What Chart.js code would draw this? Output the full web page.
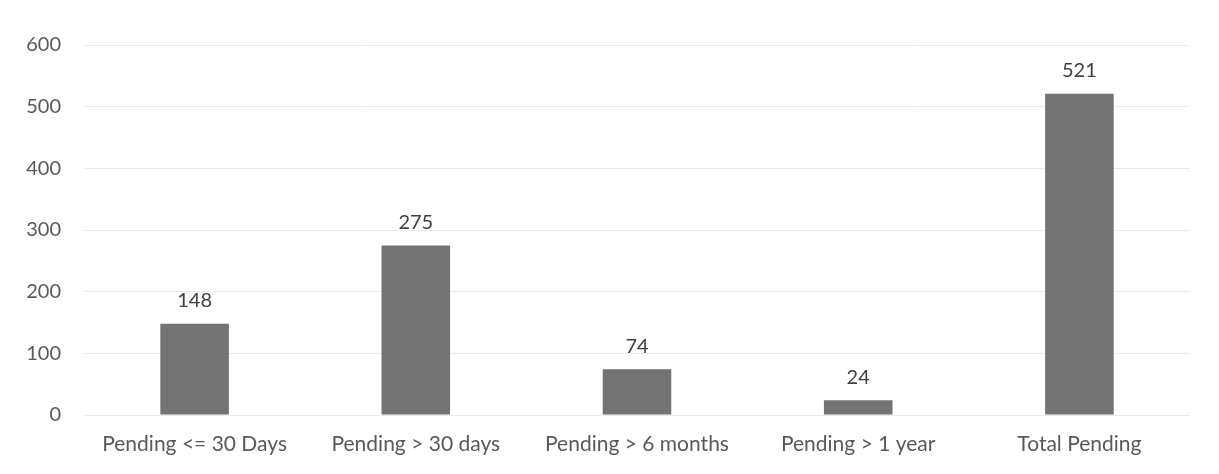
<!DOCTYPE html>
<html>
<head>
<meta charset="utf-8">
<script src="https://cdn.jsdelivr.net/npm/chart.js@4"></script>
<style>
html,body{margin:0;padding:0;background:#fff;}
#wrap{width:1219px;height:474px;position:relative;}
</style>
</head>
<body>
<div id="wrap"><canvas id="c" width="1219" height="474"></canvas></div>
<script>
const categories = ["Pending <= 30 Days", "Pending > 30 days", "Pending > 6 months", "Pending > 1 year", "Total Pending"];
const pendingValues = [148, 275, 74, 24, 521];
const yTicks = [0, 100, 200, 300, 400, 500, 600];

const FONT = "Lato, 'Open Sans', sans-serif";

const valueLabels = {
  id: 'valueLabels',
  afterDatasetsDraw(chart) {
    const ctx = chart.ctx;
    const meta = chart.getDatasetMeta(0);
    ctx.save();
    ctx.font = "20px " + FONT;
    ctx.fillStyle = "#404040";
    ctx.textAlign = "center";
    ctx.textBaseline = "bottom";
    meta.data.forEach((bar, i) => {
      ctx.fillText(String(pendingValues[i]), bar.x, bar.y - 13);
    });
    ctx.restore();
  }
};

new Chart(document.getElementById('c'), {
  type: 'bar',
  data: {
    labels: categories,
    datasets: [{
      data: pendingValues,
      backgroundColor: '#737373',
      borderWidth: 0,
      categoryPercentage: 1.0,
      barPercentage: 0.31
    }]
  },
  options: {
    responsive: false,
    animation: false,
    layout: { padding: { left: 0, right: 29, top: 45, bottom: 0 } },
    plugins: { legend: { display: false }, tooltip: { enabled: false } },
    scales: {
      x: {
        grid: { display: false, drawTicks: false },
        border: { display: false },
        ticks: { color: '#595959', font: { family: FONT, size: 21 }, padding: 17, maxRotation: 0 },
        afterFit(s) { s.height = 59; }
      },
      y: {
        min: 0, max: 600,
        afterBuildTicks(s) { s.ticks = yTicks.map(v => ({ value: v })); },
        grid: { color: '#eaeaea', lineWidth: 1, drawTicks: false },
        border: { display: false },
        ticks: { color: '#595959', font: { family: FONT, size: 20 }, padding: 23 },
        afterFit(s) { s.width = 84; }
      }
    }
  },
  plugins: [valueLabels]
});
</script>
</body>
</html>
